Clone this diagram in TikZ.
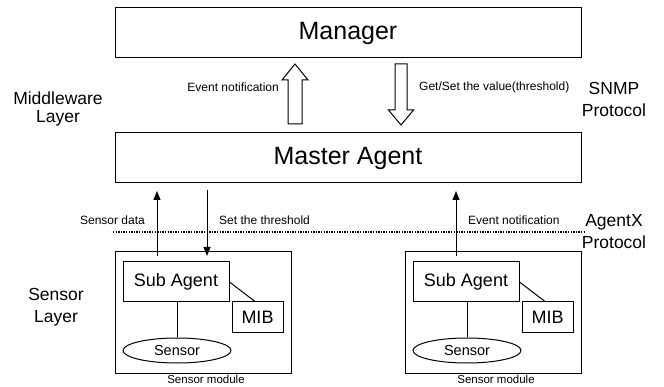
\documentclass[tikz,border=0pt]{standalone}
\usepackage{fontspec}
\setmainfont{Liberation Sans}
\usetikzlibrary{arrows.meta,shapes.geometric}

\tikzset{
  box/.style={draw, line width=1pt, inner sep=0pt},
  bigtext/.style={font=\fontsize{25}{30}\selectfont},
  midtext/.style={font=\fontsize{18}{22}\selectfont},
  sidetext/.style={font=\fontsize{17.5}{22}\selectfont, align=center, inner sep=0pt},
  smalltext/.style={font=\fontsize{12}{14}\selectfont, inner sep=0pt},
  link/.style={line width=1pt},
  flow/.style={line width=1pt, -{Triangle[length=9pt,width=7pt]}},
  hollow/.style={draw, line width=1pt, fill=white},
  agentx/.style={line width=2pt, dash pattern=on 1.3pt off 1.3pt}
}

\begin{document}
\begin{tikzpicture}[x=1pt, y=-1pt]
\useasboundingbox (0,0) rectangle (664,387);

% upper layer boxes
\node[box, bigtext, minimum width=466pt, minimum height=50pt] (mgr) at (348,33) {Manager};
\node[box, bigtext, minimum width=466pt, minimum height=50pt] (ma) at (348,158) {Master Agent};

% SNMP traffic between manager and master agent
\draw[hollow] (288,124) -- (288,80) -- (282,80) -- (295,64) -- (308,80) -- (302,80) -- (302,124) -- cycle;
\draw[hollow] (395,64) -- (407,64) -- (407,110) -- (413.5,110) -- (401,125) -- (388.5,110) -- (395,110) -- cycle;
\node[smalltext, anchor=east] (evup) at (279,87) {Event notification};
\node[smalltext, anchor=west] (getset) at (419,87) {Get/Set the value(threshold)};

% layer and protocol captions
\node[sidetext, font=\fontsize{17.5}{18.5}\selectfont] (mwl) at (58,109) {Middleware\\Layer};
\node[sidetext] (snmp) at (614,99) {SNMP\\Protocol};
\node[sidetext] (agx) at (614,231.5) {AgentX\\Protocol};
\node[sidetext] (sl) at (56,307.5) {Sensor\\Layer};

% AgentX boundary
\coordinate (dl) at (113,232);
\coordinate (dr) at (585,232);
\draw[agentx] (dl) -- (dr);

% sensor modules
\foreach \dx/\nm in {0/a, 290/b} {
  \node[box, minimum width=176pt, minimum height=121pt] (mod\nm) at (203+\dx,312.5) {};
  \node[box, midtext, minimum width=106pt, minimum height=40pt] (sub\nm) at (176+\dx,282) {Sub Agent};
  \node[box, midtext, minimum width=51pt, minimum height=31pt] (mib\nm) at (257.5+\dx,317.5) {MIB};
  \node[ellipse, draw, line width=1pt, inner sep=0pt, minimum width=108pt, minimum height=25pt,
        font=\fontsize{14.5}{16}\selectfont] (sen\nm) at (177+\dx,350.5) {Sensor};
  \node[smalltext, font=\fontsize{11.5}{13}\selectfont] (lbl\nm) at (206+\dx,379.5) {Sensor module};
  \draw[link] (sen\nm.north |- sub\nm.south) -- (sen\nm.north);
  \draw[link] (sub\nm.east) -- ([xshift=-2.5pt]mib\nm.north);
}

% AgentX traffic between sub agents and master agent
\coordinate (sdA) at (157,256);
\coordinate (sdB) at (157,191);
\coordinate (thA) at (207,190);
\coordinate (thB) at (207,256);
\coordinate (enA) at (456,256);
\coordinate (enB) at (456,191);
\draw[flow] (sdA) -- (sdB);
\draw[flow] (thA) -- (thB);
\draw[flow] (enA) -- (enB);
\node[smalltext, anchor=east] (sdlbl) at (145,220) {Sensor data};
\node[smalltext, anchor=west] (thlbl) at (219,220) {Set the threshold};
\node[smalltext, anchor=west] (enlbl) at (468,220) {Event notification};
\end{tikzpicture}
\end{document}
